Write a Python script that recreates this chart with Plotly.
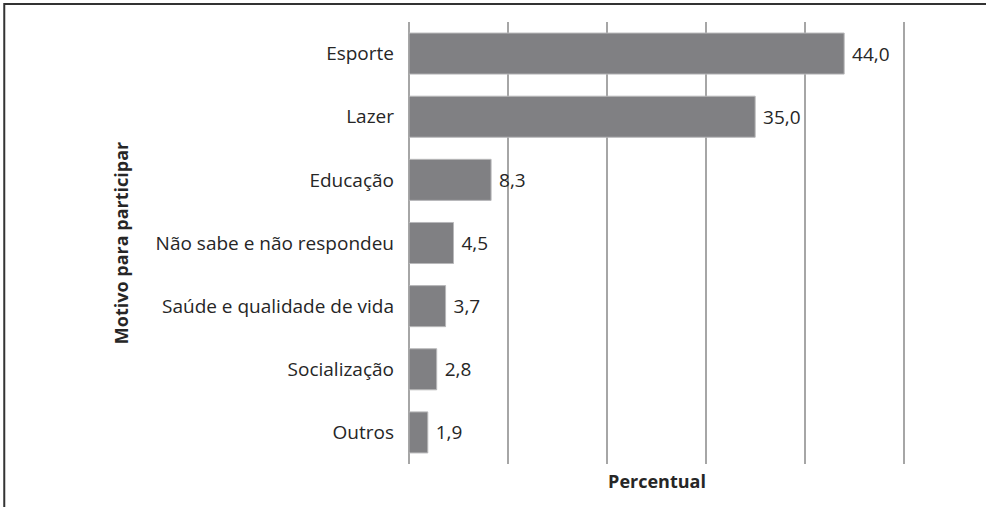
import plotly.graph_objects as go

motivos = ["Esporte", "Lazer", "Educação", "Não sabe e não respondeu",
           "Saúde e qualidade de vida", "Socialização", "Outros"]
percentual = [44.0, 35.0, 8.3, 4.5, 3.7, 2.8, 1.9]
rotulos = ["44,0", "35,0", "8,3", "4,5", "3,7", "2,8", "1,9"]

fig = go.Figure()
fig.add_trace(go.Bar(
    y=motivos, x=percentual, orientation="h",
    text=["\u00a0" + r for r in rotulos], textposition="outside",
    textfont=dict(family="Open Sans", size=19, color="#262626"),
    marker=dict(color="#808083", line=dict(color="#b8b8ba", width=1)),
    cliponaxis=False,
))

# moldura em volta do gráfico
fig.add_shape(type="rect", xref="paper", yref="paper",
              x0=-0.816, x1=1.2, y0=-0.12, y1=1.0407,
              line=dict(color="#333333", width=2), layer="below")

fig.update_layout(
    width=986, height=507,
    margin=dict(l=409, r=81, t=22, b=43, autoexpand=False),
    plot_bgcolor="white", paper_bgcolor="white",
    font=dict(family="Open Sans", size=19, color="#262626"),
    bargap=0.35,
    showlegend=False,
    xaxis=dict(
        range=[0, 50.15], dtick=10, showticklabels=False,
        showgrid=True, gridcolor="#a6a6a6", gridwidth=1.5,
        zeroline=True, zerolinecolor="#a6a6a6", zerolinewidth=1.5,
        automargin=False,
        title=dict(text="<b>Percentual</b>", font=dict(size=18, color="#262626"), standoff=11),
    ),
    yaxis=dict(
        autorange="reversed", showgrid=False, automargin=False,
        ticklabelstandoff=14,
        tickfont=dict(size=19, color="#262626"),
        title=dict(text="<b>Motivo para participar</b>", font=dict(size=18, color="#262626"), standoff=22),
    ),
)

fig.write_html("out.html", config={"displayModeBar": False},
               post_script="document.body.style.margin='0';")
